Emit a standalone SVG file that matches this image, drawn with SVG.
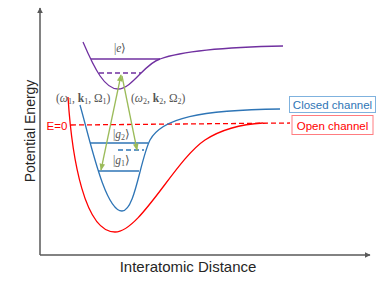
<svg xmlns="http://www.w3.org/2000/svg" width="382" height="286" viewBox="0 0 382 286">
<defs>
<marker id="axarrow" viewBox="0 0 10 10" refX="9" refY="5" markerWidth="6" markerHeight="6" orient="auto-start-reverse" markerUnits="userSpaceOnUse">
<path d="M0,0 L10,5 L0,10 z" fill="#595959"/>
</marker>
<marker id="garrow" viewBox="0 0 10 10" refX="9" refY="5" markerWidth="7" markerHeight="7" orient="auto-start-reverse" markerUnits="userSpaceOnUse">
<path d="M0,1 L10,5 L0,9 z" fill="#9BBB59"/>
</marker>
</defs>
<style>
.axis{stroke:#595959;stroke-width:1.5;fill:none}
.axlabel{font-family:"Liberation Sans",Arial,sans-serif;fill:#262626}
.math{font-family:"Liberation Serif","Times New Roman",serif;font-size:11.5px;fill:#555555}
.curve{fill:none;stroke-width:1.3}
.purple{stroke:#7030A0}
.blue{stroke:#2E75B6}
.red{stroke:#FF0000}
.dash{stroke-dasharray:5,3}
.green{stroke:#9BBB59;stroke-width:1.3;fill:none}
.box{font-family:"Liberation Sans",Arial,sans-serif;font-size:11.5px}
</style>
<rect width="382" height="286" fill="#ffffff"/>
<g id="axes">
<line class="axis" x1="40" y1="255" x2="40" y2="8" marker-end="url(#axarrow)"/>
<line class="axis" x1="40" y1="255" x2="370" y2="255" marker-end="url(#axarrow)"/>
<text class="axlabel" x="188" y="272" font-size="15" text-anchor="middle">Interatomic Distance</text>
<text class="axlabel" x="0" y="0" font-size="14" text-anchor="middle" transform="translate(35,131) rotate(-90)">Potential Energy</text>
</g>
<g id="open-channel">
<path class="curve red" d="M68,97 C72,160 85,232 115,232 C140,232 175,160 205,140 C225,127 245,124 263,123"/>
<line class="curve red dash" x1="71" y1="125" x2="290" y2="123"/>
<text x="57" y="129.5" font-family="Liberation Sans,Arial,sans-serif" font-size="11.5" fill="#FF0000" text-anchor="middle">E=0</text>
<rect x="292" y="115.5" width="81" height="19" fill="#ffffff" stroke="#FF7C80" stroke-width="1"/>
<text class="box" x="332.5" y="129.5" fill="#FF0000" text-anchor="middle">Open channel</text>
</g>
<g id="closed-channel">
<path class="curve blue" d="M80,105 C90,140 105,211 122,211 C135,211 140,160 150,140 C162,118 200,110 280,109"/>
<line class="curve blue" x1="90" y1="143" x2="148" y2="143"/>
<line class="curve blue dash" x1="118" y1="150" x2="144" y2="150"/>
<line class="curve blue" x1="98" y1="171" x2="139" y2="171"/>
<text class="math" x="113" y="138">|<tspan font-style="italic">g</tspan><tspan font-size="8" dy="2">2</tspan><tspan dy="-2">⟩</tspan></text>
<text class="math" x="113" y="164">|<tspan font-style="italic">g</tspan><tspan font-size="8" dy="2">1</tspan><tspan dy="-2">⟩</tspan></text>
<rect x="289.5" y="96.5" width="86" height="16" fill="#ffffff" stroke="#7FB2DE" stroke-width="1"/>
<text class="box" x="332.5" y="108.5" fill="#2E75B6" text-anchor="middle">Closed channel</text>
</g>
<g id="excited">
<path class="curve purple" d="M83,42 C95,70 105,89 118,89 C132,89 145,63 160,59 C185,50 230,47 283,46"/>
<line class="curve purple" x1="91" y1="59" x2="160" y2="59"/>
<line class="curve purple dash" x1="99" y1="73" x2="141" y2="73"/>
<text class="math" x="114" y="52">|<tspan font-style="italic">e</tspan>⟩</text>
</g>
<g id="connectors">
<line class="green" x1="101" y1="170" x2="121" y2="75" marker-start="url(#garrow)" marker-end="url(#garrow)"/>
<line class="green" x1="122" y1="76" x2="137" y2="150" marker-end="url(#garrow)"/>
</g>
<g id="labels">
<text class="math" x="56" y="102">(<tspan font-style="italic">ω</tspan><tspan font-size="8" dy="2">1</tspan><tspan dy="-2">, </tspan><tspan font-weight="bold">k</tspan><tspan font-size="8" dy="2">1</tspan><tspan dy="-2">, Ω</tspan><tspan font-size="8" dy="2">1</tspan><tspan dy="-2">)</tspan></text>
<text class="math" x="131" y="102">(<tspan font-style="italic">ω</tspan><tspan font-size="8" dy="2">2</tspan><tspan dy="-2">, </tspan><tspan font-weight="bold">k</tspan><tspan font-size="8" dy="2">2</tspan><tspan dy="-2">, Ω</tspan><tspan font-size="8" dy="2">2</tspan><tspan dy="-2">)</tspan></text>
</g>
</svg>
